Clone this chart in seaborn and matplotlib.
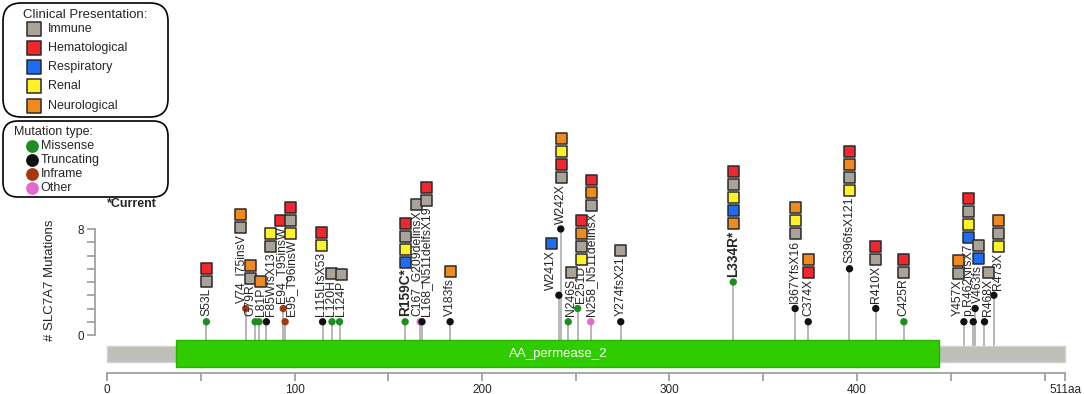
import numpy as np
import pandas as pd
import matplotlib.pyplot as plt
from matplotlib.patches import FancyBboxPatch
import seaborn as sns

sns.set_style("ticks")
plt.rcParams["font.family"] = ["Liberation Sans", "DejaVu Sans"]

# protein and domain
protein_len = 511
domain_name = "AA_permease_2"
domain_start = 37
domain_end = 444

# mutations (position in aa, label, type, number of patients)
positions = [53, 74, 79, 81, 85, 94, 95, 115, 120, 124, 159, 167, 168, 183,
             241, 242, 246, 251, 258, 274, 334, 367, 374, 396, 410, 425,
             457, 462, 463, 468, 473]
labels = ["S53L", "V74_I75insV", "G79R", "L81P", "F85WfsX13", "E94_T95insW",
          "E95_T96insW", "L115LfsX53", "L120H", "L124P", "R159C*",
          "C167_G209delinsX", "L168_N511delfsX19", "V183fs", "W241X", "W242X",
          "N246S", "E251D", "N258_N511delinsX", "Y274fsX21", "L334R*",
          "I367YfsX16", "C374X", "S396fsX121", "R410X", "C425R", "Y457X",
          "p.R462NfsX7", "V463fs", "R468X", "R473X"]
mut_types = ["Missense", "Inframe", "Missense", "Missense", "Truncating",
             "Inframe", "Inframe", "Truncating", "Missense", "Missense",
             "Missense", "Other", "Truncating", "Truncating", "Truncating",
             "Truncating", "Missense", "Missense", "Other", "Truncating",
             "Missense", "Truncating", "Truncating", "Truncating", "Truncating",
             "Missense", "Truncating", "Truncating", "Truncating", "Truncating",
             "Truncating"]
counts = [1, 2, 1, 1, 1, 2, 1, 1, 1, 1, 1, 1, 1, 1, 3, 8, 1, 2, 1, 1, 4, 2, 1,
          5, 2, 1, 1, 1, 2, 1, 3]
# clinical presentation, bottom to top
# I=Immune H=Hematological B=Respiratory R=Renal N=Neurological
clinical = ["IH", "IN", "IN", "N", "IR", "H", "RIH", "RH", "I", "I", "BRIH",
            "I", "IH", "N", "B", "IHRN", "I", "RINH", "INH", "I", "NBRIH",
            "IRN", "HN", "RINH", "IH", "IH", "IN", "BRIH", "BI", "I", "RIN"]

clin_codes = {"I": "Immune", "H": "Hematological", "B": "Respiratory",
              "R": "Renal", "N": "Neurological"}
clin_colors = {"Immune": "#aba399", "Hematological": "#f0282d",
               "Respiratory": "#1c6df2", "Renal": "#fdf226",
               "Neurological": "#f08a1e"}
type_colors = {"Missense": "#1e8c1e", "Truncating": "#111111",
               "Inframe": "#a5360e", "Other": "#e06ad0"}

W, H = 1084, 394
px_aa = 1.875     # pixels per aa
px_unit = 13.25   # pixels per mutation count
x0, y0 = 107, 335

fig = plt.figure(figsize=(W / 100, H / 100), dpi=100)
ax = fig.add_axes([0, 0, 1, 1])
xlim = (-x0 / px_aa, (W - x0) / px_aa)
ylim = ((y0 - H) / px_unit, y0 / px_unit)


def spread(xs, gap):
    # keep labels at least `gap` apart, as close as possible to their stems
    order = np.argsort(xs)
    d = np.asarray(xs, float)[order] - np.arange(len(xs)) * gap
    blocks = []
    for v in d:
        blocks.append([v, 1])
        while len(blocks) > 1 and blocks[-2][0] / blocks[-2][1] > blocks[-1][0] / blocks[-1][1]:
            s, n = blocks.pop()
            blocks[-1][0] += s
            blocks[-1][1] += n
    out = np.concatenate([[s / n] * n for s, n in blocks]) + np.arange(len(xs)) * gap
    res = np.empty(len(xs))
    res[order] = out
    return res


df = pd.DataFrame({"pos": positions, "count": counts, "type": mut_types,
                   "label": labels})
df["label_x"] = spread(df["pos"].values, 10 / px_aa)

# stems
ax.vlines(df["pos"], -0.8, df["count"], color="#b8b8b8", lw=1.4, zorder=1)

# protein bar + domain
ax.barh(-1.41, protein_len, left=0, height=1.21, color="#bfbfba",
        edgecolor="#d2d2cd", lw=1, zorder=2)
ax.barh(-1.40, domain_end - domain_start, left=domain_start, height=2.04,
        color="#2fcc00", edgecolor="#27b000", lw=1, zorder=3)
ax.text((domain_start + domain_end) / 2, -1.40, domain_name, color="white",
        ha="center", va="center", fontsize=9.5, zorder=4)

# lollipop heads
sns.scatterplot(data=df, x="pos", y="count", hue="type", palette=type_colors,
                s=28, linewidth=0, legend=False, ax=ax, zorder=4)

# mutation labels
texts = []
for _, r in df.iterrows():
    bold = r["label"].endswith("*")
    t = ax.text(r["label_x"], r["count"] + 0.4, r["label"], rotation=90,
                ha="center", va="bottom", fontsize=9.8 if bold else 8.7,
                fontweight="bold" if bold else "normal", zorder=5)
    texts.append(t)

ax.set_xlim(*xlim)
ax.set_ylim(*ylim)
fig.canvas.draw()
renderer = fig.canvas.get_renderer()
inv = ax.transData.inverted()

rows = []
for t, lx, clin in zip(texts, df["label_x"], clinical):
    top = inv.transform((0, t.get_window_extent(renderer).y1))[1]
    for k, c in enumerate(clin):
        rows.append({"x": lx, "y": top + 0.5 + k * 0.98, "clin": clin_codes[c]})
sq = pd.DataFrame(rows)
sns.scatterplot(data=sq, x="x", y="y", hue="clin", palette=clin_colors,
                marker="s", s=62, edgecolor="#2a2a2a", linewidth=1.1,
                legend=False, ax=ax, zorder=6)

# axes
ax.set_xlabel("")
ax.set_ylabel("")
sns.despine(ax=ax)
ax.spines["left"].set_position(("data", (95 - x0) / px_aa))
ax.spines["left"].set_bounds(0, 8)
ax.spines["bottom"].set_position(("data", (y0 - 372.7) / px_unit))
ax.spines["bottom"].set_bounds(0, protein_len)
for s in ["left", "bottom"]:
    ax.spines[s].set_color("#9a9a9a")
    ax.spines[s].set_linewidth(1.2)
ax.set_yticks(range(0, 9))
ax.set_yticklabels(["0"] + [""] * 7 + ["8"])
xt = list(range(0, 501, 50)) + [protein_len]
ax.set_xticks(xt)
ax.set_xticklabels([str(v) if v % 100 == 0 and v < 500 else "" for v in xt[:-1]]
                   + [f"{protein_len}aa"])
ax.tick_params(direction="out", color="#9a9a9a", length=6, width=1.2,
               labelsize=8.5, pad=2)
ax.text((50 - x0) / px_aa, (y0 - 280.5) / px_unit, "# SLC7A7 Mutations",
        rotation=90, ha="center", va="center", fontsize=9.5)
ax.set_xlim(*xlim)
ax.set_ylim(*ylim)

# legend boxes (pixel coordinates)
lax = fig.add_axes([0, 0, 1, 1])
lax.set_xlim(0, W)
lax.set_ylim(H, 0)
lax.axis("off")
lax.add_patch(FancyBboxPatch((3, 3), 165, 114, boxstyle="round,pad=0,rounding_size=18",
                             fc="white", ec="black", lw=1.2))
lax.add_patch(FancyBboxPatch((3, 121), 165, 76, boxstyle="round,pad=0,rounding_size=15",
                             fc="white", ec="black", lw=1.2))
lax.text(23, 15, "Clinical Presentation:", ha="left", va="center", fontsize=9.5)
for i, name in enumerate(clin_colors):
    yy = 28.5 + i * 19.3
    lax.scatter(33.5, yy, marker="s", s=90, color=clin_colors[name],
                edgecolor="#2a2a2a", linewidth=1.1)
    lax.text(48, yy, name, ha="left", va="center", fontsize=9)
lax.text(14, 132, "Mutation type:", ha="left", va="center", fontsize=9)
for i, name in enumerate(["Missense", "Truncating", "Inframe", "Other"]):
    yy = 146 + i * 13.9
    lax.scatter(32, yy, marker="o", s=85, color=type_colors[name], linewidth=0)
    lax.text(40.5, yy, name, ha="left", va="center", fontsize=9)
lax.text(132, 204, "*Current", ha="center", va="center", fontsize=9,
         fontweight="bold")

fig.savefig("out.png", dpi=100)
